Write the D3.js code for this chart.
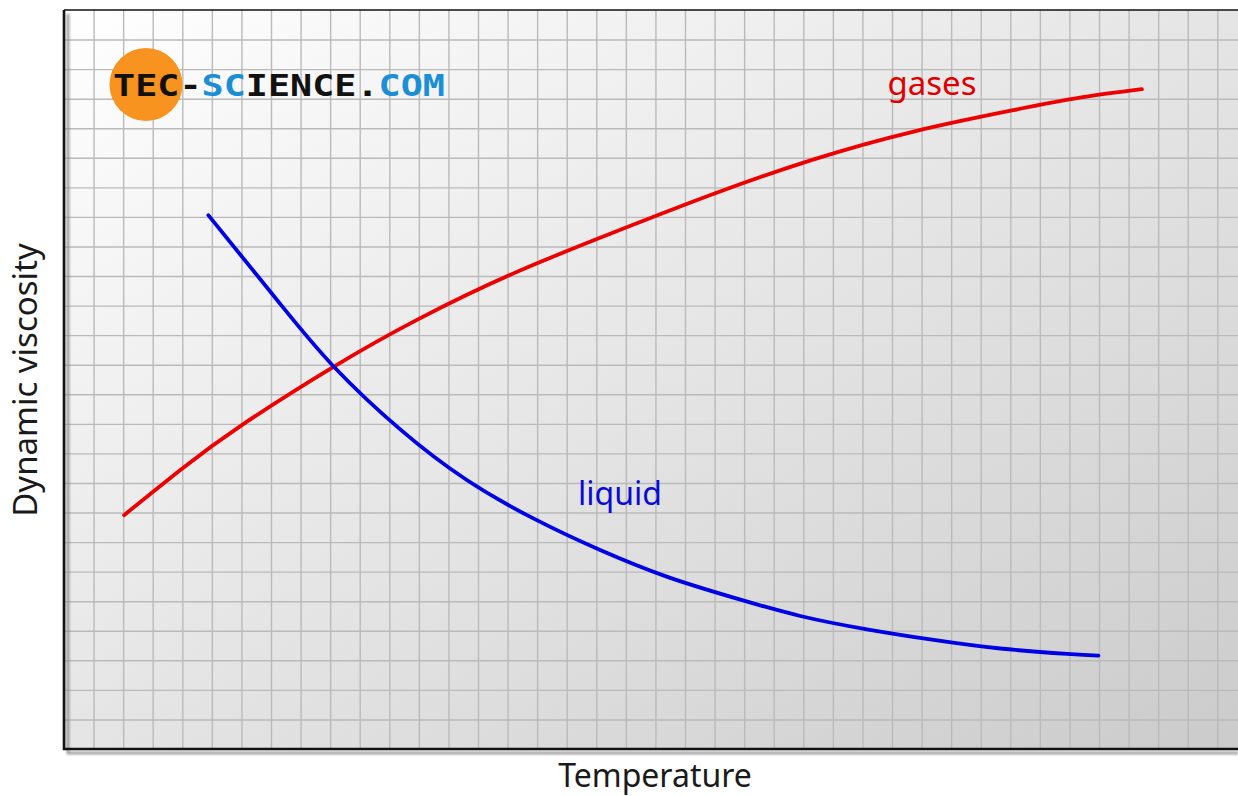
<!DOCTYPE html>
<html>
<head>
<meta charset="utf-8">
<script src="https://cdn.jsdelivr.net/npm/d3@7/dist/d3.min.js"></script>
<style>
  html, body { margin: 0; padding: 0; background: #fff; }
  svg { display: block; }
</style>
</head>
<body>
<svg id="chart" width="1238" height="796"></svg>
<script>
// Qualitative viscosity curves, in grid units (temperature, dynamic viscosity)
const gasTemp = [2.03, 4.0, 6.0, 9.1, 12.0, 15.2, 18.6, 22.0, 25.3, 28.7, 32.1, 34.4, 36.45];
const gasVisc = [7.91, 9.49, 10.95, 12.92, 14.55, 16.09, 17.48, 18.79, 19.93, 20.88, 21.61, 22.04, 22.32];

const liqTemp = [4.88, 7.30, 9.11, 11.36, 13.62, 15.87, 18.13, 20.38, 22.64, 24.90, 27.15, 29.41, 31.66, 33.92, 34.98];
const liqVisc = [18.06, 15.07, 12.95, 10.82, 9.10, 7.80, 6.73, 5.83, 5.12, 4.50, 4.05, 3.69, 3.40, 3.22, 3.16];

const seriesNames = ["gases", "liquid"];
const xTitle = "Temperature";
const yTitle = "Dynamic viscosity";
const logoParts = ["TEC-", "SC", "IENCE.", "COM"];

const svg = d3.select("#chart");
const plotLeft = 64, plotTop = 10, plotBottom = 749, plotRight = 1238;

const x = d3.scaleLinear().domain([0, 39.7]).range([plotLeft, plotRight]);
const y = d3.scaleLinear().domain([0, 25]).range([plotBottom, plotTop]);

const defs = svg.append("defs");
const bg = defs.append("linearGradient").attr("id", "bg")
  .attr("x1", "0%").attr("y1", "0%").attr("x2", "100%").attr("y2", "100%");
bg.append("stop").attr("offset", "0%").attr("stop-color", "#ffffff");
bg.append("stop").attr("offset", "100%").attr("stop-color", "#cbcbcb");
defs.append("filter").attr("id", "soft")
  .append("feGaussianBlur").attr("stdDeviation", 1.2);

// plot background
svg.append("rect")
  .attr("x", plotLeft).attr("y", plotTop)
  .attr("width", plotRight - plotLeft).attr("height", plotBottom - plotTop)
  .attr("fill", "url(#bg)");

// grid from axes with full-length ticks
const gridX = svg.append("g")
  .attr("transform", `translate(0,${plotBottom})`)
  .call(d3.axisBottom(x).tickValues(d3.range(1, 40)).tickSize(-(plotBottom - plotTop)).tickFormat(""));
const gridY = svg.append("g")
  .attr("transform", `translate(${plotLeft},0)`)
  .call(d3.axisLeft(y).tickValues(d3.range(1, 25)).tickSize(-(plotRight - plotLeft)).tickFormat(""));
[gridX, gridY].forEach(g => {
  g.select(".domain").remove();
  g.selectAll(".tick line").attr("stroke", "#bababa").attr("stroke-width", 1.4);
});

// top frame line
svg.append("line")
  .attr("x1", plotLeft).attr("x2", plotRight).attr("y1", plotTop).attr("y2", plotTop)
  .attr("stroke", "#111").attr("stroke-width", 1.6);

// axis shadow then axis lines
svg.append("path")
  .attr("d", `M${plotLeft + 4},${plotTop + 4} V${plotBottom + 4} H${plotRight}`)
  .attr("fill", "none").attr("stroke", "#8a8a8a").attr("stroke-width", 3)
  .attr("filter", "url(#soft)").attr("opacity", 0.8);
svg.append("path")
  .attr("d", `M${plotLeft},${plotTop} V${plotBottom} H${plotRight}`)
  .attr("fill", "none").attr("stroke", "#111").attr("stroke-width", 2.6);

// curves: smooth spline through the read points
const line = d3.line()
  .x(d => x(d[0])).y(d => y(d[1]))
  .curve(d3.curveNatural);

const gas = gasTemp.map((t, i) => [t, gasVisc[i]]);
const liq = liqTemp.map((t, i) => [t, liqVisc[i]]);

svg.append("path").datum(gas)
  .attr("d", line).attr("fill", "none")
  .attr("stroke", "#ee0000").attr("stroke-width", 3.8).attr("stroke-linecap", "round");
svg.append("path").datum(liq)
  .attr("d", line).attr("fill", "none")
  .attr("stroke", "#0000e6").attr("stroke-width", 3.8).attr("stroke-linecap", "round");

// series labels
svg.append("text")
  .attr("x", x(29.35)).attr("y", y(22.12))
  .attr("text-anchor", "middle")
  .attr("font-family", "Noto Sans, Open Sans, sans-serif").attr("font-size", 33)
  .attr("fill", "#e00000").text(seriesNames[0]);
svg.append("text")
  .attr("x", x(18.8)).attr("y", y(8.25))
  .attr("text-anchor", "middle")
  .attr("font-family", "Noto Sans, Open Sans, sans-serif").attr("font-size", 32)
  .attr("fill", "#0a0ad6").text(seriesNames[1]);

// axis titles
svg.append("text")
  .attr("x", 655).attr("y", 787)
  .attr("text-anchor", "middle")
  .attr("font-family", "Noto Sans, Open Sans, sans-serif").attr("font-size", 32)
  .attr("fill", "#1a1a1a").text(xTitle);
svg.append("text")
  .attr("transform", "translate(37,380) rotate(-90)")
  .attr("text-anchor", "middle")
  .attr("font-family", "Noto Sans, Open Sans, sans-serif").attr("font-size", 33)
  .attr("fill", "#1a1a1a").text(yTitle);

// logo
svg.append("circle").attr("cx", 146).attr("cy", 84.5).attr("r", 36.5).attr("fill", "#f7931e");
const logo = svg.append("text")
  .attr("x", 113).attr("y", 95.5)
  .attr("font-family", "DejaVu Sans Mono, monospace").attr("font-weight", "bold")
  .attr("font-size", 31)
  .attr("textLength", 332).attr("lengthAdjust", "spacingAndGlyphs");
const logoColors = ["#111111", "#1a8fd6", "#111111", "#1a8fd6"];
logoParts.forEach((p, i) => logo.append("tspan").attr("fill", logoColors[i]).text(p));
</script>
</body>
</html>
